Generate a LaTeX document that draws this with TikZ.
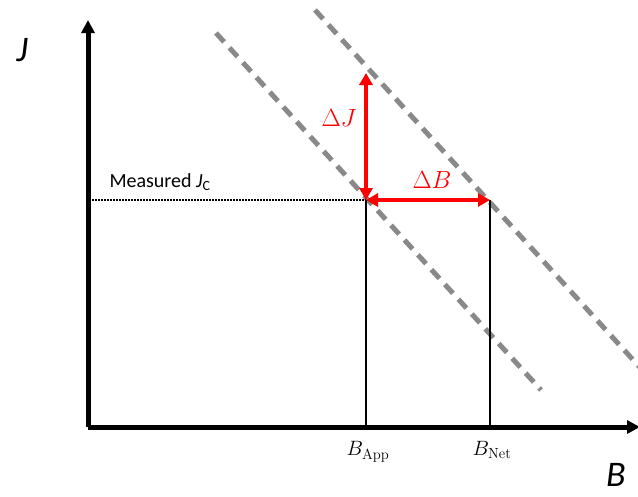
\documentclass[tikz,border=0pt]{standalone}
\usepackage{fontspec}
\setsansfont{Carlito}
\usetikzlibrary{arrows.meta}
\begin{document}
\begin{tikzpicture}[x=1pt,y=-1pt,
  axis/.style={line width=5pt,-{Triangle[length=13pt,width=13pt]}},
  guide/.style={gray!85!black,opacity=0.8,line width=5pt,dash pattern=on 12pt off 8pt},
  redarrow/.style={red,line width=4.5pt,{Triangle[length=12pt,width=13pt]}-{Triangle[length=12pt,width=13pt]}},
  tick/.style={line width=2.5pt},
  lbl/.style={font=\sffamily\itshape}]
\useasboundingbox (0,0) rectangle (638,496);
\coordinate (O) at (88,427);
\coordinate (Ytop) at (88,20);
\coordinate (Xend) at (640,427);
\coordinate (P) at (366,200);
\coordinate (Q) at (490,200);
\coordinate (R) at (366,73);
\coordinate (BA) at (366,427);
\coordinate (BN) at (490,427);
\coordinate (M) at (92,200);
\coordinate (L1a) at (216,33);
\coordinate (L1b) at (541,390);
\coordinate (L2a) at (315,10);
\coordinate (L2b) at (645,373);
\draw[guide] (L1a) -- (L1b);
\draw[guide] (L2a) -- (L2b);
\draw[line width=1.3pt,dash pattern=on 1.5pt off 1.5pt] (M) -- (P);
\draw[tick] (P) -- (BA);
\draw[tick] (Q) -- (BN);
\draw[axis] (O) -- (Ytop);
\draw[axis] (O) -- (Xend);
\draw[redarrow] (R) -- (P);
\draw[redarrow] (P) -- (Q);
\node[lbl,font=\sffamily\itshape\fontsize{36}{40}\selectfont] (J) at (22,50) {J};
\node[lbl,inner sep=0pt,font=\sffamily\itshape\fontsize{36}{40}\selectfont] (B) at (616,475) {B};
\node[font=\sffamily\fontsize{20}{22}\selectfont,anchor=west] (meas) at (106,182) {Measured \textit{J}\textsubscript{C}};
\node[red,font=\fontsize{30}{32}\selectfont] (dJ) at (339,118) {$\Delta J$};
\node[red,font=\fontsize{31}{33}\selectfont] (dB) at (432,180) {$\Delta B$};
\node[font=\fontsize{21}{23}\selectfont] (bapp) at (368,452) {$B_{\mathrm{App}}$};
\node[font=\fontsize{21}{23}\selectfont] (bnet) at (492,450) {$B_{\mathrm{Net}}$};
\end{tikzpicture}
\end{document}
